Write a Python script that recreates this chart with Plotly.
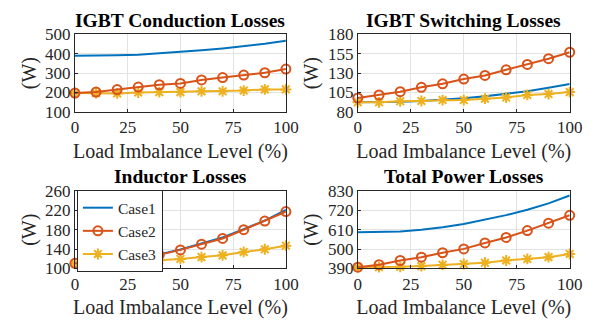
import plotly.graph_objects as go

# Load imbalance levels (%)
levels = [0, 10, 20, 30, 40, 50, 60, 70, 80, 90, 100]

# IGBT conduction losses (W)
cond_case1 = [390, 390, 392, 395, 402, 410, 418, 428, 440, 452, 468]
cond_case2 = [197, 202, 215, 228, 240, 247, 265, 277, 290, 302, 321]
cond_case3 = [197, 197, 195, 200, 202, 202, 206, 206, 210, 216, 216]

# IGBT switching losses (W)
sw_case1 = [92.5, 92.6, 93, 94, 95.5, 97.5, 100, 103, 106.5, 111, 116]
sw_case2 = [98, 101.8, 106, 111.7, 116.2, 122.4, 127, 134.3, 141.3, 148.7, 157]
sw_case3 = [92.3, 92.3, 93.6, 94, 95.2, 95.2, 97, 98.5, 101.8, 103, 105.5]

# Inductor losses (W)
ind_case1 = [110, 111, 114, 121, 129, 139, 151, 164, 181, 199, 221]
ind_case2 = [110.4, 111, 113.6, 120.8, 128, 138.3, 150, 162, 180, 198, 217.5]
ind_case3 = [110, 110, 111.7, 114, 117, 119.5, 123.4, 127, 134, 139.6, 147]

# Total power losses (W)
tot_case1 = [595, 596, 600, 610, 624, 643, 666, 693, 724, 760, 805]
tot_case2 = [397, 411, 435, 454, 479, 501, 535, 566, 605, 647, 692]
tot_case3 = [397, 397, 399, 403, 410, 415, 422, 435, 444, 454, 472]

titles = ["IGBT Conduction Losses", "IGBT Switching Losses",
          "Inductor Losses", "Total Power Losses"]
case_names = ["Case1", "Case2", "Case3"]
x_ticks = [0, 25, 50, 75, 100]
y_ticks = [
    [100, 200, 300, 400, 500],
    [80, 105, 130, 155, 180],
    [100, 140, 180, 220, 260],
    [390, 500, 610, 720, 830],
]

panels = [
    (cond_case1, cond_case2, cond_case3),
    (sw_case1, sw_case2, sw_case3),
    (ind_case1, ind_case2, ind_case3),
    (tot_case1, tot_case2, tot_case3),
]

C1, C2, C3 = "#0072BD", "#D95319", "#EDB120"
FONT = "Liberation Serif, Times New Roman, serif"
W, H = 608, 335

# plot-area boxes in pixels: (left, right, top, bottom)
boxes = [
    (73, 290, 27, 109),
    (364, 582, 27, 109),
    (73, 290, 193, 275),
    (364, 582, 193, 275),
]

fig = go.Figure()
annotations = []
layout_axes = {}

for i, (series, box) in enumerate(zip(panels, boxes)):
    n = "" if i == 0 else str(i + 1)
    xa, ya = "x" + n, "y" + n
    l, r, t, b = box
    xdom = [l / W, r / W]
    ydom = [1 - b / H, 1 - t / H]
    s1, s2, s3 = series
    show = (i == 2)
    fig.add_trace(go.Scatter(x=levels, y=s1, mode="lines", name=case_names[0],
                             line=dict(color=C1, width=2), xaxis=xa, yaxis=ya,
                             showlegend=show, legendrank=1))
    fig.add_trace(go.Scatter(x=levels, y=s3, mode="lines+markers", name=case_names[2],
                             line=dict(color=C3, width=2),
                             marker=dict(symbol="asterisk-open", size=9, color=C3,
                                         line=dict(color=C3, width=2)),
                             xaxis=xa, yaxis=ya, cliponaxis=False,
                             showlegend=show, legendrank=3))
    fig.add_trace(go.Scatter(x=levels, y=s2, mode="lines+markers", name=case_names[1],
                             line=dict(color=C2, width=2),
                             marker=dict(symbol="circle-open", size=9, color=C2,
                                         line=dict(color=C2, width=2)),
                             xaxis=xa, yaxis=ya, cliponaxis=False,
                             showlegend=show, legendrank=2))

    axis_common = dict(showline=True, linecolor="#262626", linewidth=1, mirror=True,
                       showgrid=True, gridcolor="#E3E3E3", gridwidth=1,
                       ticks="inside", ticklen=3, tickcolor="#262626",
                       zeroline=False,
                       tickfont=dict(family=FONT, size=17, color="#262626"))
    layout_axes["xaxis" + n] = dict(axis_common, domain=xdom, range=[0, 100],
                                    tickvals=x_ticks, anchor=ya,
                                    title=dict(text="Load Imbalance Level (%)",
                                               font=dict(family=FONT, size=20, color="#262626"),
                                               standoff=7))
    yt = y_ticks[i]
    layout_axes["yaxis" + n] = dict(axis_common, domain=ydom, range=[yt[0], yt[-1]],
                                    tickvals=yt, anchor=xa,
                                    title=dict(text="(W)",
                                               font=dict(family=FONT, size=20, color="#262626"),
                                               standoff=3))
    annotations.append(dict(text="<b>" + titles[i] + "</b>", x=(l + r) / 2 / W,
                            y=1 - (t - 2) / H, xref="paper", yref="paper",
                            xanchor="center", yanchor="bottom", showarrow=False,
                            font=dict(family=FONT, size=19.5, color="black")))

fig.update_layout(
    width=W, height=H, margin=dict(l=0, r=0, t=0, b=0),
    paper_bgcolor="white", plot_bgcolor="white",
    annotations=annotations,
    legend=dict(x=75 / W, y=1 - 192 / H, xanchor="left", yanchor="top",
                bgcolor="white", bordercolor="#262626", borderwidth=1,
                font=dict(family=FONT, size=15.5, color="#262626"),
                tracegroupgap=0, itemwidth=30),
    **layout_axes,
)

fig.write_html("out.html")
